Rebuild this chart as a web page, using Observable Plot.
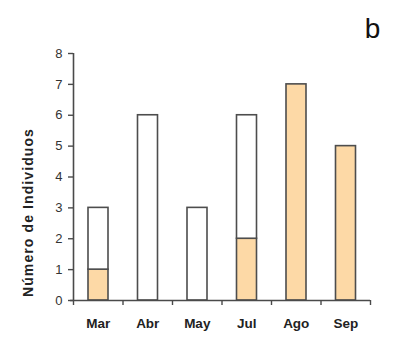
<!DOCTYPE html>
<html>
<head>
<meta charset="utf-8">
<script src="https://cdn.jsdelivr.net/npm/d3@7"></script>
<script src="https://cdn.jsdelivr.net/npm/@observablehq/plot@0.6"></script>
<style>
  html, body { margin: 0; padding: 0; background: #fff; }
  #chart { width: 403px; height: 356px; }
</style>
</head>
<body>
<div id="chart"></div>
<script>
const months = ["Mar", "Abr", "May", "Jul", "Ago", "Sep"];
const naranja = [1, 0, 0, 2, 7, 5];
const blanco = [2, 6, 3, 4, 0, 0];
const yTicks = [0, 1, 2, 3, 4, 5, 6, 7, 8];
const yLabel = "Número de Individuos";
const panelLetter = "b";

const rows = [];
months.forEach((m, i) => {
  rows.push({i, mes: m, serie: "naranja", valor: naranja[i]});
  rows.push({i, mes: m, serie: "blanco", valor: blanco[i]});
});

const axisColor = "#4a4a4a";
const fontFamily = "'Liberation Sans', Arial, sans-serif";

const chart = Plot.plot({
  width: 403,
  height: 356,
  marginLeft: 73,
  marginRight: 33,
  marginTop: 53,
  marginBottom: 56,
  style: {fontFamily, background: "#fff", color: "#222"},
  x: {type: "linear", domain: [0, months.length], axis: null},
  y: {domain: [0, 8], axis: null},
  color: {domain: ["naranja", "blanco"], range: ["#fdd9a6", "#ffffff"]},
  marks: [
    Plot.rectY(rows.filter(d => d.valor > 0), Plot.stackY({
      x1: d => d.i, x2: d => d.i + 1, y: "valor", z: "serie",
      order: ["naranja", "blanco"],
      fill: "serie", stroke: "#4d4d4d", strokeWidth: 1.6,
      insetLeft: 15, insetRight: 14.5
    })),
    Plot.ruleX([0], {y1: 0, y2: 8, stroke: axisColor, strokeWidth: 1.6}),
    Plot.axisY(yTicks, {
      anchor: "left", tickSize: 5, tickPadding: 6, stroke: axisColor, strokeWidth: 1.4,
      fontSize: 13, fill: "#333", label: null, tickFormat: d => String(d)
    }),
    Plot.ruleY([0], {x1: -0.06, x2: months.length, stroke: axisColor, strokeWidth: 1.6}),
    Plot.axisX(d3.range(0, months.length + 1), {
      anchor: "bottom", tickSize: 5, stroke: axisColor, strokeWidth: 1.4,
      tickFormat: () => "", label: null
    }),
    Plot.axisX(months.map((m, i) => i + 0.5), {
      anchor: "bottom", tickSize: 0, tickPadding: 18,
      tickFormat: d => months[Math.floor(d)], fontSize: 13.5, fontWeight: "bold",
      fill: "#222", label: null
    }),
    Plot.text([yLabel], {
      x: 0, y: 2.85, dx: -45, rotate: -90, text: d => d,
      fontSize: 14, fontWeight: "bold", fill: "#222", textAnchor: "middle", lineAnchor: "middle"
    }),
    Plot.text([panelLetter], {
      frameAnchor: "top-right", dx: 2, dy: -24, text: d => d,
      fontSize: 28, fill: "#111", textAnchor: "middle", lineAnchor: "middle"
    })
  ]
});
d3.select(chart).selectAll("text").filter(function() { return this.textContent === yLabel; })
  .attr("letter-spacing", "1.1px");
document.getElementById("chart").appendChild(chart);
</script>
</body>
</html>
